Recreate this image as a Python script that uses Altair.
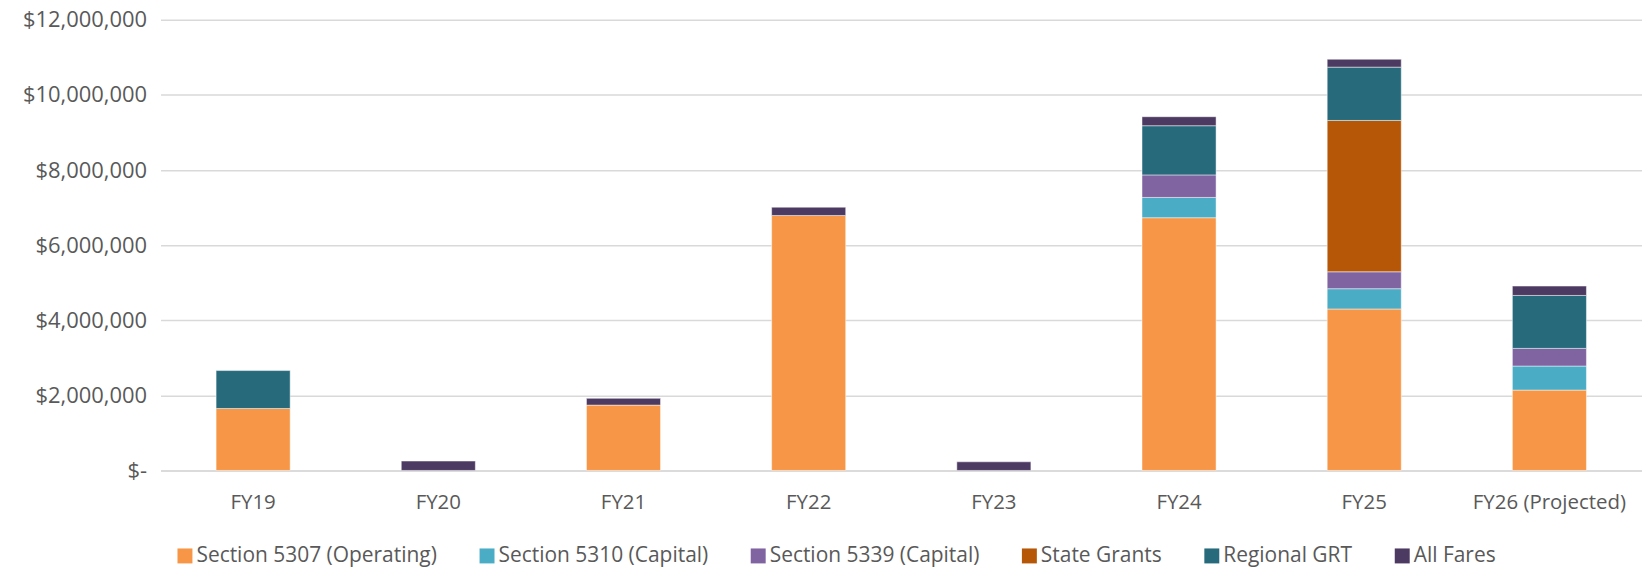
import altair as alt
import pandas as pd

years = ["FY19", "FY20", "FY21", "FY22", "FY23", "FY24", "FY25", "FY26 (Projected)"]
series = ["Section 5307 (Operating)", "Section 5310 (Capital)", "Section 5339 (Capital)",
          "State Grants", "Regional GRT", "All Fares"]
colors = ["#F79646", "#4BACC6", "#8064A2", "#B65708", "#276A7C", "#4D3A62"]

sec5307 = [1650000, 0, 1740000, 6790000, 0, 6730000, 4300000, 2140000]
sec5310 = [0, 0, 0, 0, 0, 540000, 540000, 640000]
sec5339 = [0, 0, 0, 0, 0, 600000, 450000, 470000]
state = [0, 0, 0, 0, 0, 0, 4030000, 0]
grt = [1010000, 0, 0, 0, 0, 1310000, 1420000, 1410000]
fares = [0, 250000, 180000, 220000, 230000, 240000, 210000, 250000]

values = [sec5307, sec5310, sec5339, state, grt, fares]
rows = []
for si, (s, vals) in enumerate(zip(series, values)):
    for y, v in zip(years, vals):
        if v > 0:
            rows.append({"Year": y, "Series": s, "Value": v, "order": si})
df = pd.DataFrame(rows)

FONT = "Open Sans"
GREY = "#595959"

chart = alt.Chart(df).mark_bar(stroke="#FFFFFF", strokeWidth=0.8, strokeOpacity=0.6).encode(
    x=alt.X("Year:N", sort=years, title=None,
            scale=alt.Scale(paddingInner=0.6, paddingOuter=0.3),
            axis=alt.Axis(labelAngle=0, labelFontSize=20.5, labelColor=GREY, labelFont=FONT,
                          ticks=False, domain=True, domainColor="#D9D9D9", domainWidth=1.5,
                          labelPadding=22, grid=False)),
    y=alt.Y("Value:Q", title=None, stack="zero",
            scale=alt.Scale(domain=[0, 12000000], nice=False),
            axis=alt.Axis(values=[0, 2000000, 4000000, 6000000, 8000000, 10000000, 12000000],
                          labelExpr="datum.value == 0 ? '$-\u00a0\u00a0\u00a0\u00a0\u00a0' : '$' + format(datum.value, ',.0f')",
                          labelFontSize=22, labelColor=GREY, labelFont=FONT, ticks=False,
                          domain=False, gridColor="#D9D9D9", gridWidth=1.5, labelPadding=14)),
    color=alt.Color("Series:N", sort=series,
                    scale=alt.Scale(domain=series, range=colors),
                    legend=alt.Legend(orient="none", direction="horizontal", title=None,
                                      legendX=14, legendY=527, symbolType="square",
                                      symbolSize=225, symbolStrokeWidth=0,
                                      labelFontSize=21, labelColor=GREY, labelFont=FONT,
                                      labelLimit=400, labelOffset=1, columnPadding=39,
                                      columns=6)),
    order=alt.Order("order:Q", sort="ascending"),
).properties(
    width=1486, height=452,
    autosize=alt.AutoSizeParams(type="none"),
    padding={"left": 153, "top": 11, "right": 0, "bottom": 98},
).configure_view(stroke=None)

chart.save("out.html", embed_options={"renderer": "svg", "actions": False})
